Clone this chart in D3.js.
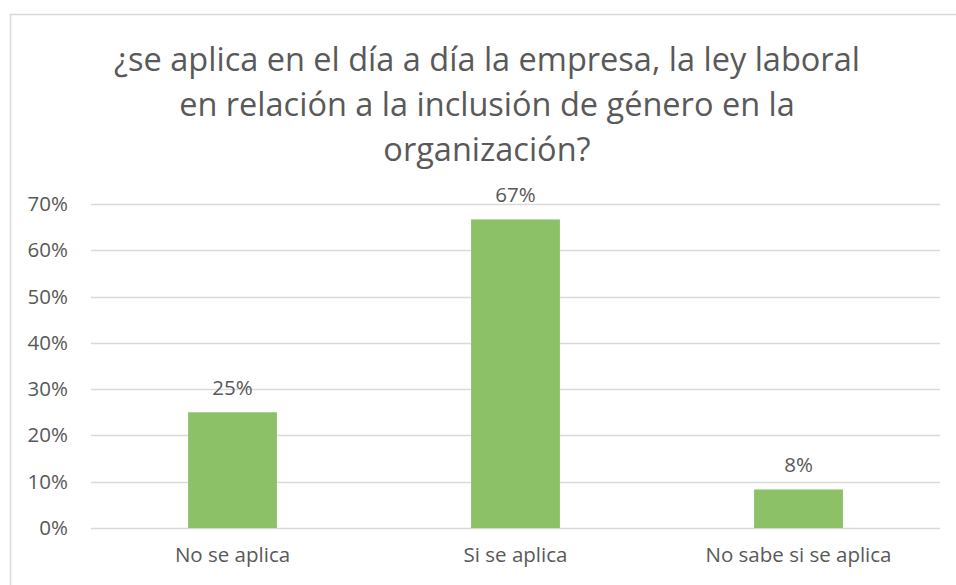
<!DOCTYPE html>
<html>
<head>
<meta charset="utf-8">
<script src="https://cdn.jsdelivr.net/npm/d3@7"></script>
<style>
  body { margin: 0; background: #fff; }
  text { font-family: "Open Sans", "Liberation Sans", Arial, sans-serif; fill: #595959; }
</style>
</head>
<body>
<div id="chartDiv"></div>
<script>
// data
var categories = ["No se aplica", "Si se aplica", "No sabe si se aplica"];
var values = [0.25, 0.6667, 0.0833];
var yTicks = [0, 0.1, 0.2, 0.3, 0.4, 0.5, 0.6, 0.7];
var titleLines = [
  "¿se aplica en el día a día la empresa, la ley laboral",
  "en relación a la inclusión de género en la",
  "organización?"
];

var W = 956, H = 585;
var margin = {top: 204, right: 16, bottom: 57, left: 91},
    width = W - margin.left - margin.right,
    height = H - margin.top - margin.bottom;

var svg = d3.select("#chartDiv")
  .append("svg")
    .attr("width", W)
    .attr("height", H);

// chart border
svg.append("rect")
  .attr("x", 10.5).attr("y", 14.5)
  .attr("width", W).attr("height", H)
  .attr("fill", "none")
  .attr("stroke", "#d9d9d9")
  .attr("stroke-width", 1.5);

// title
svg.append("g").selectAll("text")
  .data(titleLines)
  .enter().append("text")
    .attr("x", 487)
    .attr("y", function(d, i) { return 71 + i * 45; })
    .attr("text-anchor", "middle")
    .style("font-size", "32.5px")
    .text(function(d) { return d; });

var g = svg.append("g")
  .attr("transform", "translate(" + margin.left + "," + margin.top + ")");

var x = d3.scaleBand()
  .domain(categories)
  .range([0, width])
  .paddingInner(0.686)
  .paddingOuter(0.343);

var y = d3.scaleLinear()
  .domain([0, 0.7])
  .range([height, 0]);

// gridlines
g.append("g").selectAll("line")
  .data(yTicks)
  .enter().append("line")
    .attr("x1", 0).attr("x2", width)
    .attr("y1", function(d) { return Math.round(y(d)) + 0.5; })
    .attr("y2", function(d) { return Math.round(y(d)) + 0.5; })
    .attr("stroke", "#d9d9d9")
    .attr("stroke-width", 1.3);

// y axis
var yAxis = g.append("g")
  .call(d3.axisLeft(y).tickValues(yTicks).tickFormat(d3.format(".0%")).tickSize(0).tickPadding(23));
yAxis.select(".domain").remove();
yAxis.selectAll("text").style("font-size", "20.5px").attr("fill", "#595959");

// x axis
var xAxis = g.append("g")
  .attr("transform", "translate(0," + height + ")")
  .call(d3.axisBottom(x).tickSize(0).tickPadding(19));
xAxis.select(".domain").remove();
xAxis.selectAll("text").style("font-size", "20.5px").attr("fill", "#595959");

// bars
g.selectAll(".bar")
  .data(values)
  .enter().append("rect")
    .attr("class", "bar")
    .attr("x", function(d, i) { return x(categories[i]); })
    .attr("y", function(d) { return y(d); })
    .attr("width", x.bandwidth())
    .attr("height", function(d) { return height - y(d); })
    .attr("fill", "#8cc168");

// data labels
g.selectAll(".lbl")
  .data(values)
  .enter().append("text")
    .attr("class", "lbl")
    .attr("x", function(d, i) { return x(categories[i]) + x.bandwidth() / 2; })
    .attr("y", function(d) { return y(d) - 17; })
    .attr("text-anchor", "middle")
    .style("font-size", "20.5px")
    .text(function(d) { return d3.format(".0%")(d); });
</script>
</body>
</html>
